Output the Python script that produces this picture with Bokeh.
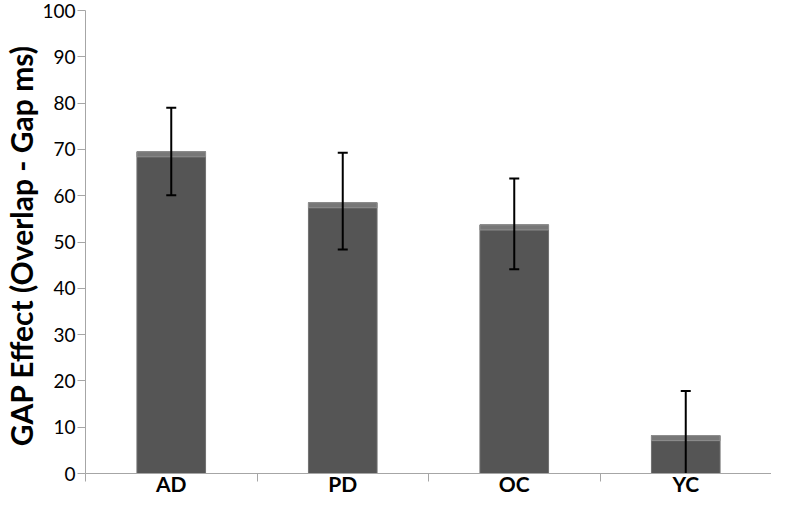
from bokeh.plotting import figure
from bokeh.models import FixedTicker, Range1d
from bokeh.embed import file_html
from bokeh.resources import INLINE

# ---- data ----
groups = ["AD", "PD", "OC", "YC"]
gap_effect = [69.5, 58.5, 53.7, 8.2]
err_upper = [79.0, 69.3, 63.7, 17.8]
err_lower = [60.1, 48.4, 44.1, -1.4]
y_ticks = [0, 10, 20, 30, 40, 50, 60, 70, 80, 90, 100]

# numeric positions: category centres and category boundaries
x_pos = [i + 0.5 for i in range(len(groups))]
boundaries = list(range(len(groups) + 1))

FONT = "Lato"
AXIS_GREY = "#a6a6a6"

p = figure(width=771, height=498, output_backend="svg", toolbar_location=None,
           x_range=Range1d(0, len(groups)), y_range=Range1d(0, 100),
           min_border_top=10, min_border_right=0, min_border_left=80,
           min_border_bottom=20)
p.outline_line_color = None
p.grid.grid_line_color = None
p.background_fill_color = "white"
p.border_fill_color = "white"

# bars
p.vbar(x=x_pos, top=gap_effect, bottom=0, width=0.4,
       fill_color="#555555", line_color="#707070", line_width=1)
# bevel highlight strip at the top of each bar
p.vbar(x=x_pos, top=gap_effect, bottom=[v - 1.1 for v in gap_effect], width=0.4,
       fill_color="#777777", line_color="#8f8f8f", line_width=1)

# error bars
p.segment(x0=x_pos, y0=err_lower, x1=x_pos, y1=err_upper,
          line_color="black", line_width=2)
p.scatter(x=x_pos, y=err_upper, marker="dash", size=10,
          line_color="black", line_width=2)
p.scatter(x=x_pos, y=err_lower, marker="dash", size=10,
          line_color="black", line_width=2)

# x axis: labels at centres, ticks at category boundaries
xa = p.xaxis[0]
xa.ticker = FixedTicker(ticks=x_pos, minor_ticks=boundaries)
xa.major_label_overrides = {xv: g for xv, g in zip(x_pos, groups)}
xa.major_tick_out = 0
xa.major_tick_in = 0
xa.minor_tick_out = 8
xa.minor_tick_in = 0
xa.minor_tick_line_color = AXIS_GREY
xa.axis_line_color = AXIS_GREY
xa.major_label_text_font = FONT
xa.major_label_text_font_style = "bold"
xa.major_label_text_font_size = "21px"
xa.major_label_text_color = "black"
xa.major_label_standoff = -11

# y axis
ya = p.yaxis[0]
ya.ticker = FixedTicker(ticks=y_ticks)
ya.major_tick_out = 8
ya.major_tick_in = 0
ya.minor_tick_out = 0
ya.minor_tick_in = 0
ya.major_tick_line_color = AXIS_GREY
ya.axis_line_color = AXIS_GREY
ya.major_label_text_font = FONT
ya.major_label_text_font_size = "19px"
ya.major_label_text_color = "black"
ya.major_label_standoff = 2
ya.axis_label = "GAP Effect  (Overlap - Gap ms)"
ya.axis_label_text_font = FONT
ya.axis_label_text_font_style = "bold"
ya.axis_label_text_font_size = "30px"
ya.axis_label_text_color = "black"
ya.axis_label_standoff = 0

open("out.html", "w").write(file_html(p, INLINE))
